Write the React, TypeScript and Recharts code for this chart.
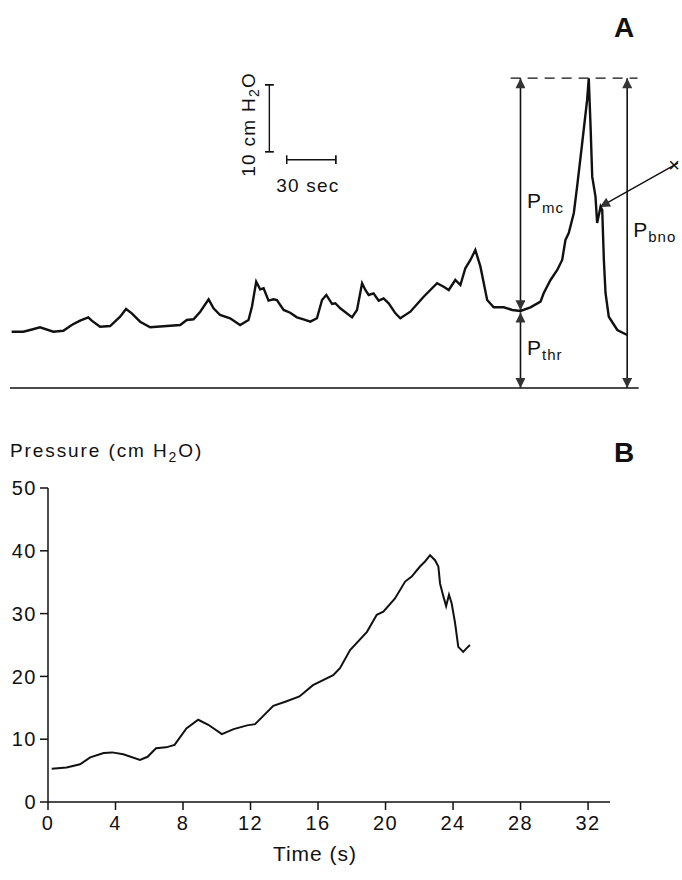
import React from "react";
import {
  LineChart,
  Line,
  XAxis,
  YAxis,
  ReferenceLine,
  ReferenceDot,
} from "recharts";

const FONT = '"Liberation Sans", Arial, Helvetica, sans-serif';
const INK = "#111";

// Panel A: raw recording, time in s, pressure in cm H2O above the zero line
const traceTime = [
  1, 8.1, 13.4, 18.3, 26.4, 32.5, 37.6, 42.7, 47.7, 49.8, 54.9, 61, 67.1, 70.7,
  74.2, 79.3, 85.4, 95.5, 103.7, 107.7, 111.8, 115.9, 121, 124, 128, 134.1,
  140.2, 145.3, 147.4, 150, 152.4, 154.5, 157.5, 160.6, 162.6, 166.7, 170.7,
  174.8, 178.8, 183, 187, 190.1, 192.7, 196.2, 198.2, 201.2, 208.4, 211.4,
  214.5, 216.5, 218.5, 221.5, 224.6, 227.6, 230.7, 234.8, 237.8, 243.9, 252,
  260.2, 264.2, 267.3, 271.3, 274.4, 277.4, 280.5, 283.5, 286.6, 290.7, 294.7,
  300.8, 306, 311, 317.1, 323.2, 325.2, 329.3, 333.4, 336.4, 338.4, 340.4,
  343.5, 345.5, 348.6, 351.6, 352.6, 353.7, 354.7, 356.7, 357.7, 359.8, 360.8,
  361.8, 362.8, 364.8, 370, 376,
];
const tracePressure = [
  8.41, 8.41, 8.74, 9.07, 8.41, 8.56, 9.41, 10.06, 10.56, 10.06, 9.16, 9.26,
  10.65, 11.8, 11.16, 9.91, 9.07, 9.26, 9.41, 10.16, 10.27, 11.4, 13.25, 11.91,
  10.91, 10.42, 9.41, 10.16, 12.15, 15.88, 14.75, 14.9, 13.05, 13.25, 13.15,
  11.66, 11.25, 10.56, 10.27, 9.91, 10.42, 13.15, 13.9, 12.55, 12.66, 11.91,
  10.56, 11.66, 15.65, 14.64, 13.9, 14.15, 13.05, 13.4, 12.66, 11.16, 10.42,
  11.4, 13.64, 15.65, 15.14, 14.64, 16.14, 15.39, 17.89, 19.13, 20.62, 18.13,
  13.15, 12.06, 12.06, 11.66, 11.51, 12.06, 12.9, 14.2, 16.14, 17.63, 19.13,
  22.12, 23.16, 26.15, 30.08, 36.61, 43.04, 46.28, 39.05, 31.58, 28.59, 24.66,
  27.09, 26.6, 19.13, 14.2, 10.65, 8.67, 7.92,
];

// Panel A annotation levels
const peakLevel = 46.3;
const thresholdLevel = 11.45;
const thresholdTime = 311;
const bnoTime = 376;

// Panel B: pressure vs time
const timeB = [
  0.22, 1.1, 1.9, 2.5, 3.3, 3.8, 4.46, 5.45, 5.9, 6.4, 7.0, 7.5, 8.2, 8.9, 9.5,
  10.3, 11.0, 11.8, 12.27, 13.35, 14.1, 14.9, 15.7, 16.9, 17.3, 17.9, 18.9,
  19.48, 19.87, 20.56, 21.16, 21.55, 22.04, 22.34, 22.64, 22.93, 23.13, 23.23,
  23.43, 23.59, 23.76, 23.92, 24.12, 24.31, 24.6, 24.81, 25.0,
];
const pressureB = [
  5.3, 5.5, 6.0, 7.1, 7.8, 7.9, 7.6, 6.7, 7.2, 8.55, 8.7, 9.1, 11.7, 13.1, 12.3,
  10.8, 11.6, 12.2, 12.4, 15.3, 16.0, 16.8, 18.6, 20.2, 21.3, 24.2, 27.1, 29.8,
  30.3, 32.4, 35.1, 35.9, 37.5, 38.3, 39.3, 38.5, 37.5, 34.8, 32.7, 31.2, 33.0,
  31.6, 28.5, 24.7, 23.9, 24.5, 25.0,
];
const xTicksB = [0, 4, 8, 12, 16, 20, 24, 28, 32];
const yTicksB = [0, 10, 20, 30, 40, 50];

const dataA = traceTime.map((t, i) => ({ t, p: tracePressure[i] }));
const dataB = timeB.map((t, i) => ({ t, p: pressureB[i] }));

const segLine =
  (start: string | undefined, end: string | undefined, dash?: string, w = 1.6) =>
  (props: any) =>
    (
      <line
        x1={props.x1}
        y1={props.y1}
        x2={props.x2}
        y2={props.y2}
        stroke={INK}
        strokeWidth={w}
        strokeDasharray={dash}
        markerStart={start}
        markerEnd={end}
      />
    );

const subLabel =
  (main: string, sub: string) =>
  (props: any) =>
    (
      <text
        x={props.viewBox.x}
        y={props.viewBox.y}
        fontFamily={FONT}
        fontSize={21}
        letterSpacing={1}
        fill={INK}
      >
        {main}
        <tspan fontSize={15} dy={5}>
          {sub}
        </tspan>
      </text>
    );

const plainLabel =
  (txt: string, size = 19) =>
  (props: any) => {
    const { x, y } = props.viewBox;
    return (
      <text
        x={x}
        y={y}
        fontFamily={FONT}
        fontSize={size}
        letterSpacing={1.2}
        fill={INK}
        textAnchor="middle"
      >
        {txt}
      </text>
    );
  };

const waterLabel = (props: any) => {
  const { x, y } = props.viewBox;
  return (
    <text
      x={x}
      y={y}
      fontFamily={FONT}
      fontSize={19}
      letterSpacing={1.3}
      fill={INK}
      textAnchor="middle"
      transform={`rotate(-90, ${x}, ${y})`}
    >
      10 cm H
      <tspan fontSize={14} dy={4}>
        2
      </tspan>
      <tspan dy={-4}>O</tspan>
    </text>
  );
};

function PanelA() {
  return (
    <LineChart
      width={682}
      height={420}
      data={dataA}
      margin={{ top: 40, right: 0, bottom: 32, left: 10 }}
    >
      <defs>
        <marker
          id="head"
          viewBox="0 0 10 10"
          refX={10}
          refY={5}
          markerWidth={13}
          markerHeight={10}
          markerUnits="userSpaceOnUse"
          orient="auto-start-reverse"
        >
          <path d="M0,0 L10,5 L0,10 z" fill="#333" />
        </marker>
        <marker
          id="cap"
          viewBox="0 0 2 10"
          refX={1}
          refY={5}
          markerWidth={2}
          markerHeight={9}
          markerUnits="userSpaceOnUse"
          orient="auto"
        >
          <rect x={0} y={0} width={2} height={10} fill={INK} />
        </marker>
      </defs>
      <XAxis type="number" dataKey="t" domain={[0, 409.4]} hide />
      <YAxis type="number" domain={[0, 52]} hide />
      <ReferenceLine
        segment={[
          { x: 0, y: 0 },
          { x: 383, y: 0 },
        ]}
        shape={segLine(undefined, undefined, undefined, 1.4)}
      />
      <ReferenceLine
        segment={[
          { x: 305, y: peakLevel },
          { x: 382.3, y: peakLevel },
        ]}
        shape={segLine(undefined, undefined, "10 7", 1.4)}
      />
      <ReferenceLine
        segment={[
          { x: thresholdTime, y: thresholdLevel + 0.15 },
          { x: thresholdTime, y: peakLevel },
        ]}
        shape={segLine("url(#head)", "url(#head)")}
      />
      <ReferenceLine
        segment={[
          { x: thresholdTime, y: thresholdLevel - 0.15 },
          { x: thresholdTime, y: 0 },
        ]}
        shape={segLine("url(#head)", "url(#head)")}
      />
      <ReferenceLine
        segment={[
          { x: bnoTime, y: 0 },
          { x: bnoTime, y: peakLevel },
        ]}
        shape={segLine("url(#head)", "url(#head)")}
      />
      <ReferenceLine
        segment={[
          { x: 406.9, y: 33.6 },
          { x: 359.4, y: 27.05 },
        ]}
        shape={segLine(undefined, "url(#head)", undefined, 1.4)}
      />
      <ReferenceLine
        segment={[
          { x: 158, y: 35.3 },
          { x: 158, y: 45.3 },
        ]}
        shape={segLine("url(#cap)", "url(#cap)", undefined, 1.4)}
      />
      <ReferenceLine
        segment={[
          { x: 168.5, y: 34.1 },
          { x: 198.5, y: 34.1 },
        ]}
        shape={segLine("url(#cap)", "url(#cap)", undefined, 1.4)}
      />
      <ReferenceDot x={315} y={26.9} r={0} fill="none" stroke="none" label={subLabel("P", "mc")} />
      <ReferenceDot x={315} y={4.93} r={0} fill="none" stroke="none" label={subLabel("P", "thr")} />
      <ReferenceDot x={379.7} y={22.6} r={0} fill="none" stroke="none" label={subLabel("P", "bno")} />
      <ReferenceDot x={405} y={32.3} r={0} fill="none" stroke="none" label={plainLabel("×", 20)} />
      <ReferenceDot x={181.5} y={29.3} r={0} fill="none" stroke="none" label={plainLabel("30 sec")} />
      <ReferenceDot x={149.5} y={39.4} r={0} fill="none" stroke="none" label={waterLabel} />
      <Line
        type="linear"
        dataKey="p"
        stroke={INK}
        strokeWidth={2.4}
        dot={false}
        isAnimationActive={false}
      />
    </LineChart>
  );
}

function PanelB() {
  const tick = { fontSize: 20, fill: INK, fontFamily: FONT, letterSpacing: 1.5 };
  return (
    <LineChart
      width={682}
      height={410}
      data={dataB}
      margin={{ top: 18, right: 72, bottom: 48, left: 0 }}
    >
      <XAxis
        type="number"
        dataKey="t"
        domain={[0, 33.3]}
        ticks={xTicksB}
        interval={0}
        tick={tick}
        tickSize={8}
        tickMargin={6}
        height={30}
        axisLine={{ stroke: INK, strokeWidth: 1.5 }}
        tickLine={{ stroke: INK, strokeWidth: 1.5 }}
        label={{
          value: "Time (s)",
          position: "bottom",
          offset: 14,
          dx: -14,
          fontSize: 21,
          letterSpacing: 1,
          fill: INK,
          fontFamily: FONT,
        }}
      />
      <YAxis
        type="number"
        domain={[0, 50]}
        ticks={yTicksB}
        interval={0}
        tick={tick}
        tickSize={8}
        tickMargin={3}
        width={48}
        axisLine={{ stroke: INK, strokeWidth: 1.5 }}
        tickLine={{ stroke: INK, strokeWidth: 1.5 }}
      />
      <Line
        type="linear"
        dataKey="p"
        stroke={INK}
        strokeWidth={2}
        dot={false}
        isAnimationActive={false}
      />
    </LineChart>
  );
}

export default function App() {
  return (
    <div
      style={{
        position: "absolute",
        left: 0,
        top: 0,
        width: 682,
        height: 880,
        background: "#fff",
        overflow: "hidden",
        fontFamily: FONT,
        color: INK,
      }}
    >
      <div style={{ position: "absolute", left: 0, top: 0 }}>
        <PanelA />
      </div>
      <div
        style={{
          position: "absolute",
          left: 614,
          top: 12,
          fontSize: 28,
          fontWeight: "bold",
        }}
      >
        A
      </div>
      <div
        style={{
          position: "absolute",
          left: 614,
          top: 437,
          fontSize: 28,
          fontWeight: "bold",
        }}
      >
        B
      </div>
      <div
        style={{
          position: "absolute",
          left: 10,
          top: 440,
          fontSize: 19,
          letterSpacing: 1.9,
          whiteSpace: "nowrap",
        }}
      >
        Pressure (cm H<sub style={{ fontSize: 14 }}>2</sub>O)
      </div>
      <div style={{ position: "absolute", left: 0, top: 470 }}>
        <PanelB />
      </div>
    </div>
  );
}
